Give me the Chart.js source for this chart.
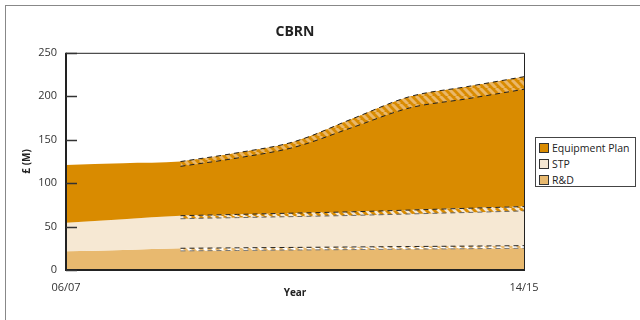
<!DOCTYPE html>
<html>
<head>
<meta charset="utf-8">
<script src="https://cdn.jsdelivr.net/npm/chart.js@4/dist/chart.umd.min.js"></script>
<style>
  body { margin: 0; background: #fff; font-family: "Open Sans", sans-serif; }
  #wrap { position: relative; width: 640px; height: 320px; overflow: hidden; }
  #frame { position: absolute; left: 5px; top: 5px; width: 700px; height: 400px; border: 1.5px solid #888; }
  #c { position: absolute; left: 0; top: 0; }
  #legend { position: absolute; left: 535px; top: 137px; width: 101px; height: 50px; box-sizing: border-box;
            border: 1px solid #444; background: #fff; padding: 2px 0 0 3px; font-size: 10.5px; color: #222; }
  .item { height: 16px; line-height: 16px; white-space: nowrap; }
  .sw { display: inline-block; width: 8px; height: 8px; border: 1px solid #333; margin-right: 3px; vertical-align: -1px; }
</style>
</head>
<body>
<div id="wrap">
  <div id="frame"></div>
  <canvas id="c" width="640" height="320"></canvas>
  <div id="legend"></div>
</div>
<script>
// years along the bottom; only the first and last are labelled
const years = ["06/07", "07/08", "08/09", "09/10", "10/11", "11/12", "12/13", "13/14", "14/15"];

// £M per series (stacked: R&D, STP, Equipment Plan)
const rdValues    = [21.5, 23, 25, 25.5, 26, 26.5, 27, 27.5, 28];
const stpValues   = [33, 35.5, 37.5, 38.5, 39.5, 40.5, 42, 43.5, 45];
const equipValues = [66.5, 64.5, 62.3, 71, 82.5, 107, 130.5, 140, 149.5];

// hatched ranges (depth below the top of each series), from 08/09 on
const rdRange    = [null, null, 3, 3, 3, 3, 3, 3, 3];
const stpRange   = [null, null, 3.5, 3.7, 4, 4.2, 4.5, 4.8, 5];
const equipRange = [null, null, 5.5, 6, 6.5, 10, 13, 14, 14.5];

const seriesNames = ["Equipment Plan", "STP", "R&D"];
const colors = { equip: "#d98b00", stp: "#f6e8d3", rd: "#e8b96f" };

const add = (a, b) => a.map((v, i) => v + b[i]);
const rdTop = rdValues.slice();
const stpTop = add(rdTop, stpValues);
const equipTop = add(stpTop, equipValues);
const bandHigh = (top, range) => top.map((v, i) => (range[i] == null ? null : v));
const bandLow = (top, range) => top.map((v, i) => (range[i] == null ? null : v - range[i]));

const canvas = document.getElementById("c");
const ctx = canvas.getContext("2d");

function hatch(bg, fg) {
  const p = document.createElement("canvas");
  p.width = p.height = 8;
  const g = p.getContext("2d");
  g.fillStyle = bg;
  g.fillRect(0, 0, 8, 8);
  g.strokeStyle = fg;
  g.lineWidth = 3;
  g.beginPath();
  for (const k of [-8, 0, 8]) { g.moveTo(k, 0); g.lineTo(k + 8, 8); }
  g.stroke();
  return ctx.createPattern(p, "repeat");
}

const solid = (data, fill, color, order) => ({
  data, fill, backgroundColor: color, borderWidth: 0, pointRadius: 0, order,
  cubicInterpolationMode: "monotone",
});
const dashed = (data, color, fill, bg, order) => ({
  data, fill, backgroundColor: bg, borderColor: color, borderWidth: 1,
  borderDash: [5, 4], pointRadius: 0, spanGaps: false, order,
  cubicInterpolationMode: "monotone",
});

// box, thick axes and the inward y tick marks
const frame = {
  id: "frame",
  afterDatasetsDraw(chart) {
    const { ctx, chartArea: a, scales: { y } } = chart;
    ctx.save();
    ctx.strokeStyle = "#222";
    ctx.lineWidth = 1;
    ctx.beginPath();
    ctx.moveTo(a.left, a.top + 0.5);
    ctx.lineTo(a.right + 0.5, a.top + 0.5);
    ctx.lineTo(a.right + 0.5, a.bottom);
    ctx.stroke();
    ctx.lineWidth = 2;
    ctx.beginPath();
    ctx.moveTo(a.left, a.top);
    ctx.lineTo(a.left, a.bottom);
    ctx.lineTo(a.right + 1, a.bottom);
    ctx.stroke();
    ctx.lineWidth = 1.5;
    ctx.strokeStyle = "#333";
    y.ticks.forEach((t) => {
      const py = Math.round(y.getPixelForValue(t.value)) + 0.5;
      ctx.beginPath();
      ctx.moveTo(a.left, py);
      ctx.lineTo(a.left + 11, py);
      ctx.stroke();
    });
    ctx.restore();
  },
};

new Chart(ctx, {
  type: "line",
  data: {
    labels: years,
    datasets: [
      solid(rdTop, "origin", colors.rd, 20),                                   // 0
      solid(stpTop, 0, colors.stp, 19),                                        // 1
      solid(equipTop, 1, colors.equip, 18),                                    // 2
      dashed(bandLow(equipTop, equipRange), "#222", false, "transparent", 1),  // 3
      dashed(bandHigh(equipTop, equipRange), "#222", 3, hatch(colors.equip, "#eab768"), 2), // 4
      dashed(bandLow(stpTop, stpRange), "#666", false, "transparent", 3),      // 5
      dashed(bandHigh(stpTop, stpRange), "#222", 5, hatch(colors.stp, colors.equip), 4),    // 6
      dashed(bandLow(rdTop, rdRange), "#777", false, "transparent", 5),        // 7
      dashed(bandHigh(rdTop, rdRange), "#222", 7, hatch("#ffffff", colors.rd), 6),          // 8
    ],
  },
  options: {
    responsive: false,
    animation: false,
    events: [],
    layout: { padding: { left: 20, top: 0, right: 116, bottom: 0 } },
    plugins: {
      legend: { display: false },
      tooltip: { enabled: false },
      title: {
        display: true,
        text: "CBRN",
        fullSize: false,
        color: "#222",
        font: { family: "Open Sans", size: 14, weight: "bold" },
        padding: { top: 24, bottom: 12 },
      },
    },
    scales: {
      x: {
        type: "category",
        offset: false,
        grid: { display: false, drawTicks: false },
        border: { display: false },
        ticks: {
          autoSkip: false,
          maxRotation: 0,
          padding: 11,
          color: "#333",
          font: { family: "Open Sans", size: 11 },
          callback: (v, i) => (i === 0 || i === years.length - 1 ? years[i] : ""),
        },
        title: {
          display: true,
          text: "Year",
          color: "#222",
          font: { family: "Open Sans", size: 10, weight: "bold" },
          padding: { top: 0, bottom: 21 },
        },
        afterFit: (s) => { s.height = 50; },
      },
      y: {
        min: 0,
        max: 250,
        grid: { display: false, drawTicks: false },
        border: { display: false },
        ticks: {
          stepSize: 50,
          padding: 9,
          color: "#333",
          font: { family: "Open Sans", size: 11 },
        },
        title: {
          display: true,
          text: "£ (M)",
          color: "#222",
          font: { family: "Open Sans", size: 10, weight: "bold" },
          padding: { top: 1, bottom: 0 },
        },
        afterFit: (s) => { s.width = 46; },
      },
    },
  },
  plugins: [frame],
});

// legend box on the right
const legendColors = [colors.equip, colors.stp, colors.rd];
document.getElementById("legend").innerHTML = seriesNames
  .map((n, i) => `<div class="item"><span class="sw" style="background:${legendColors[i]}"></span>${n.replace("&", "&amp;")}</div>`)
  .join("");
</script>
</body>
</html>
